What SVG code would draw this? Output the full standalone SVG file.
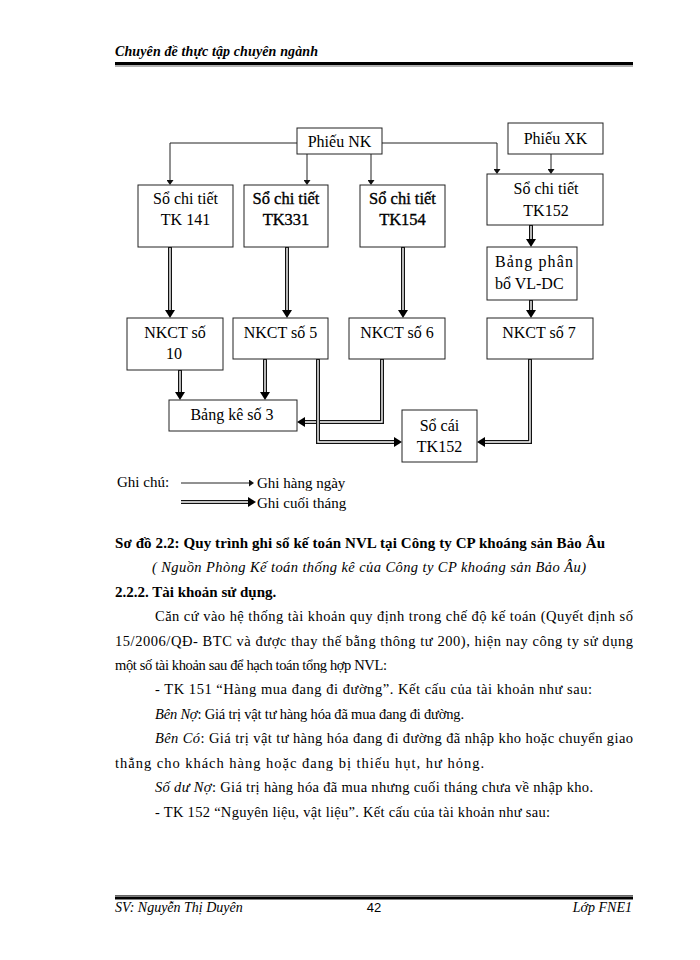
<svg xmlns="http://www.w3.org/2000/svg" width="700" height="960" viewBox="0 0 700 960">
<style>
text{font-family:"Liberation Serif","Times New Roman",serif;fill:#000}
.sans{font-family:"Liberation Sans",Arial,sans-serif}
.box{fill:#fff;stroke:#222;stroke-width:1}
.bt{font-size:16px;text-anchor:middle}
.bth{font-size:16.5px;text-anchor:middle;stroke:#000;stroke-width:0.35}
.sl{fill:none;stroke:#222;stroke-width:1}
.dO{fill:none;stroke:#111;stroke-width:4;stroke-linejoin:miter}
.dI{fill:none;stroke:#fff;stroke-width:1.4;stroke-linejoin:miter}
.body{font-size:14.5px}
.hdr{font-size:14px;font-weight:bold;font-style:italic}
.ft{font-size:14px;font-style:italic}
</style>
<defs>
<marker id="sa" viewBox="0 0 5 7" refX="0" refY="3.5" markerWidth="5" markerHeight="7" markerUnits="userSpaceOnUse" orient="auto"><path d="M0,0 L5,3.5 L0,7 z" fill="#111"/></marker>
<marker id="da" viewBox="0 0 8 10" refX="0" refY="5" markerWidth="8" markerHeight="10" markerUnits="userSpaceOnUse" orient="auto"><path d="M0,0 L8,5 L0,10 z" fill="#000"/></marker>
</defs>
<rect width="700" height="960" fill="#fff"/>

<!-- header -->
<text class="hdr" x="115" y="56" textLength="203" lengthAdjust="spacing">Chuyên đề thực tập chuyên ngành</text>
<rect x="115" y="62" width="518" height="3" fill="#000"/>
<rect x="115" y="65.5" width="518" height="1" fill="#666"/>

<!-- connectors -->
<g id="connectors">
<path class="sl" d="M297,143 H170 V180" marker-end="url(#sa)"/>
<path class="sl" d="M307,154 V180" marker-end="url(#sa)"/>
<path class="sl" d="M371,154 V180" marker-end="url(#sa)"/>
<path class="sl" d="M382,143 H497 V169" marker-end="url(#sa)"/>
<path class="sl" d="M551,154 V169" marker-end="url(#sa)"/>

<path class="dO" d="M170,247 V310" marker-end="url(#da)"/><path class="dI" d="M170,248 V310"/>
<path class="dO" d="M287,247 V310" marker-end="url(#da)"/><path class="dI" d="M287,248 V310"/>
<path class="dO" d="M403,247 V310" marker-end="url(#da)"/><path class="dI" d="M403,248 V310"/>
<path class="dO" d="M531,225 V239" marker-end="url(#da)"/><path class="dI" d="M531,226 V239"/>
<path class="dO" d="M531,300 V310" marker-end="url(#da)"/><path class="dI" d="M531,301 V310"/>
<path class="dO" d="M180,370 V392" marker-end="url(#da)"/><path class="dI" d="M180,371 V392"/>
<path class="dO" d="M265,359 V392" marker-end="url(#da)"/><path class="dI" d="M265,360 V392"/>
<path class="dO" d="M382,359 V422 H305" marker-end="url(#da)"/><path class="dI" d="M382,360 V422 H305"/>
<path class="dO" d="M318,359 V442 H394" marker-end="url(#da)"/><path class="dI" d="M318,360 V442 H394"/>
<path class="dO" d="M530,359 V442 H485" marker-end="url(#da)"/><path class="dI" d="M530,360 V442 H485"/>
</g>

<!-- nodes -->
<g id="n_phieunk"><rect class="box" x="297" y="128" width="85" height="26"/><text class="bt" x="339.5" y="147">Phiếu NK</text></g>
<g id="n_phieuxk"><rect class="box" x="508" y="123" width="95" height="31"/><text class="bt" x="555.5" y="144">Phiếu XK</text></g>
<g id="n_tk141"><rect class="box" x="138" y="185" width="95" height="62"/><text class="bt" x="185.5" y="204">Sổ chi tiết</text><text class="bt" x="185.5" y="225">TK 141</text></g>
<g id="n_tk331"><rect class="box" x="244" y="185" width="84" height="62"/><text class="bth" x="286" y="204">Sổ chi tiết</text><text class="bth" x="286" y="225">TK331</text></g>
<g id="n_tk154"><rect class="box" x="360" y="185" width="85" height="62"/><text class="bth" x="402.5" y="204">Sổ chi tiết</text><text class="bth" x="402.5" y="225">TK154</text></g>
<g id="n_tk152"><rect class="box" x="487" y="174" width="116" height="51"/><text class="bt" x="546" y="194">Sổ chi tiết</text><text class="bt" x="546" y="216">TK152</text></g>
<g id="n_bangphanbo"><rect class="box" x="487" y="247" width="90" height="53"/><text x="495" y="267" font-size="16" textLength="78" lengthAdjust="spacing">Bảng phân</text><text x="495" y="289" font-size="16">bổ VL-DC</text></g>
<g id="n_nkct10"><rect class="box" x="127" y="318" width="96" height="52"/><text class="bt" x="175" y="338">NKCT số</text><text class="bt" x="174" y="359">10</text></g>
<g id="n_nkct5"><rect class="box" x="233" y="318" width="95" height="41"/><text class="bt" x="280.5" y="338">NKCT số 5</text></g>
<g id="n_nkct6"><rect class="box" x="349" y="318" width="96" height="41"/><text class="bt" x="397" y="338">NKCT số 6</text></g>
<g id="n_nkct7"><rect class="box" x="487" y="318" width="106" height="41"/><text class="bt" x="539" y="338">NKCT số 7</text></g>
<g id="n_bangke3"><rect class="box" x="169" y="400" width="128" height="31"/><text class="bt" x="232" y="420">Bảng kê số 3</text></g>
<g id="n_socai"><rect class="box" x="402" y="410" width="75" height="52"/><text class="bt" x="439.5" y="431">Sổ cái</text><text class="bt" x="439.5" y="452">TK152</text></g>

<!-- legend -->
<g id="legend">
<text x="117" y="487" font-size="15">Ghi chú:</text>
<path class="sl" d="M181,483 H249" marker-end="url(#sa)"/>
<text x="257" y="488" font-size="15">Ghi hàng ngày</text>
<path class="dO" d="M181,502 H248" marker-end="url(#da)"/><path class="dI" d="M181,502 H248"/>
<text x="257" y="508" font-size="15">Ghi cuối tháng</text>
</g>

<!-- caption and body -->
<text x="115" y="548" font-size="15" font-weight="bold" textLength="490" lengthAdjust="spacing">Sơ đồ 2.2: Quy trình ghi sổ kế toán NVL  tại Công ty CP khoáng sản Bảo Âu</text>
<text x="152" y="572" font-size="14.5" font-style="italic" textLength="434" lengthAdjust="spacing">( Nguồn Phòng Kế toán thống kê của Công ty CP khoáng sản Bảo Âu)</text>
<text x="115" y="597" font-size="15" font-weight="bold">2.2.2. Tài khoản  sử dụng.</text>

<text class="body" x="155" y="621" textLength="478" lengthAdjust="spacing">Căn cứ vào hệ thống tài khoản  quy định trong chế độ kế toán (Quyết định số</text>
<text class="body" x="115" y="646" textLength="518" lengthAdjust="spacing">15/2006/QĐ- BTC  và  được  thay  thế  bằng  thông tư 200), hiện nay công ty sử dụng</text>
<text class="body" x="115" y="670" textLength="272" lengthAdjust="spacing">một số tài khoản sau để hạch toán tổng hợp NVL:</text>
<text class="body" x="155" y="694" textLength="437" lengthAdjust="spacing">- TK  151 “Hàng  mua đang đi đường”.  Kết cấu của tài khoản như sau:</text>
<text class="body" x="155" y="719" textLength="309" lengthAdjust="spacing"><tspan font-style="italic">Bên Nợ</tspan>: Giá trị vật tư hàng hóa đã mua đang đi đường.</text>
<text class="body" x="155" y="743" textLength="478" lengthAdjust="spacing"><tspan font-style="italic">Bên Có</tspan>: Giá trị vật tư hàng hóa đang đi đường đã nhập kho hoặc chuyển giao</text>
<text class="body" x="115" y="768" textLength="369" lengthAdjust="spacing">thẳng cho khách hàng hoặc đang bị thiếu hụt, hư hỏng.</text>
<text class="body" x="155" y="792" textLength="438" lengthAdjust="spacing"><tspan font-style="italic">Số dư Nợ</tspan>: Giá trị hàng hóa đã mua nhưng cuối tháng chưa về nhập kho.</text>
<text class="body" x="155" y="817" textLength="395" lengthAdjust="spacing">- TK  152 “Nguyên  liệu, vật liệu”. Kết cấu của tài khoản như sau:</text>

<!-- footer -->
<rect x="115" y="895" width="518" height="1" fill="#666"/>
<rect x="115" y="896.5" width="518" height="3" fill="#000"/>
<text class="ft" x="115" y="912">SV: Nguyễn Thị Duyên</text>
<text class="sans" x="374" y="912" font-size="13" text-anchor="middle">42</text>
<text class="ft" x="632" y="912" text-anchor="end">Lớp FNE1</text>
</svg>
